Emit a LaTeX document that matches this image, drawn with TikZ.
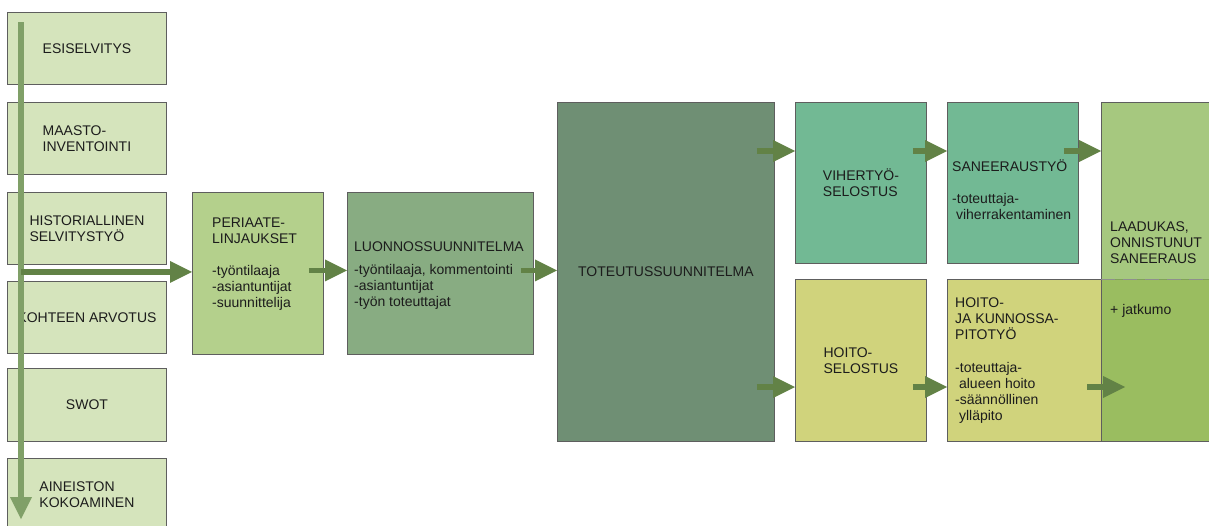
\documentclass[tikz,border=0pt]{standalone}
\usepackage{fontspec}
\setmainfont{Liberation Sans}
\usetikzlibrary{arrows.meta, calc}
\definecolor{boxline}{HTML}{5E5E5E}
\definecolor{textcol}{HTML}{1C1C1C}
\definecolor{palegreen}{HTML}{D5E4BC}
\definecolor{perigreen}{HTML}{B4D08C}
\definecolor{luongreen}{HTML}{88AC82}
\definecolor{totgreen}{HTML}{6F8F74}
\definecolor{mintgreen}{HTML}{72B994}
\definecolor{hoitoyellow}{HTML}{D0D37C}
\definecolor{laadgreen}{HTML}{8BB758}
\definecolor{flowgreen}{RGB}{98,130,70}
\definecolor{flowpale}{RGB}{128,160,104}

\begin{document}
\begin{tikzpicture}[x=1pt, y=-1pt,
    box/.style={draw=boxline, line width=0.9pt, anchor=north west, inner sep=0pt, align=left,
      text=textcol, font=\fontsize{14pt}{16pt}\selectfont},
    leftbox/.style={box, fill=palegreen, minimum width=159pt, minimum height=72pt},
    txt/.style={anchor=north west, inner sep=0pt, align=left, text=textcol,
      font=\fontsize{14pt}{16pt}\selectfont},
    flow/.style={draw=flowgreen, line width=5.5pt,
      -{Triangle[length=22pt, width=22pt, line width=0pt]}},
    flowlight/.style={flow, draw=flowpale}]
  \useasboundingbox (0,0) rectangle (1209,525);

  \node[leftbox] (esi) at (7,12) {ESISELVITYS};
  \node[leftbox] (maasto) at (7,102) {MAASTO-\\INVENTOINTI};
  \node[leftbox] (hist) at (7,192) {HISTORIALLINEN\\SELVITYSTYÖ};
  \node[leftbox] (kohde) at (7,281) {KOHTEEN ARVOTUS};
  \node[leftbox, minimum height=73pt] (swot) at (7,368) {SWOT};
  \node[leftbox] (aine) at (7,458) {AINEISTON\\KOKOAMINEN};

  \node[box, fill=perigreen, minimum width=131pt, minimum height=162pt] (peri) at (192,192) {};
  \node[box, fill=luongreen, minimum width=186pt, minimum height=162pt] (luon) at (347,192) {};
  \node[box, fill=totgreen, minimum width=217pt, minimum height=339pt] (tot) at (557,102) {TOTEUTUSSUUNNITELMA};
  \node[box, fill=mintgreen, minimum width=131pt, minimum height=161pt] (viher) at (795,102) {VIHERTYÖ-\\SELOSTUS};
  \node[box, fill=mintgreen, minimum width=131pt, minimum height=161pt] (san) at (947,102) {};
  \node[box, fill=hoitoyellow, minimum width=131pt, minimum height=162pt] (hsel) at (795,279) {HOITO-\\SELOSTUS};
  \node[box, fill=hoitoyellow, minimum width=268pt, minimum height=162pt] (hoito) at (947,279) {};
  \node[box, fill=laadgreen, fill opacity=0.77, minimum width=120pt, minimum height=339pt] (laad) at (1101,102) {};
  \draw[boxline!70, line width=0.9pt, dash pattern=on 14pt off 8pt] (laad.west |- hoito.north) -- (hoito.north east);

  \node[txt] (peritxt) at (212,218) {PERIAATE-\\LINJAUKSET\\[16pt]-työntilaaja\\-asiantuntijat\\-suunnittelija};
  \node[txt] (luontxt) at (354,241.5) {LUONNOSSUUNNITELMA\\[7pt]-työntilaaja, kommentointi\\-asiantuntijat\\-työn toteuttajat};
  \node[txt] (santxt) at (952,159.5) {SANEERAUSTYÖ\\[16pt]-toteuttaja-\\\ viherrakentaminen};
  \node[txt] (hoitotxt) at (955,297.5) {HOITO-\\JA KUNNOSSA-\\PITOTYÖ\\[17pt]-toteuttaja-\\\ alueen hoito\\-säännöllinen\\\ ylläpito};
  \node[txt] (laadtxt) at (1110,221.5) {LAADUKAS,\\ONNISTUNUT\\SANEERAUS};
  \node[txt] (jatkumo) at (1110,304) {+ jatkumo};

  \draw[flowlight] ($(esi.north west)+(14,10)$) -- ($(aine.north west)+(14,61)$);
  \draw[flow] ($(hist.south west)+(14,7)$) -- ($(hist.south west -| peri.west)+(0,7)$);
  \draw[flow] ($(peri.east)+(-15,-3)$) -- ($(luon.west)+(0,-3)$);
  \draw[flow] ($(luon.east)+(-13,-3)$) -- ($(tot.west |- luon.east)+(0,-3)$);
  \draw[flow] ($(tot.east |- viher.north)+(-18,49)$) -- ($(viher.north west)+(0,49)$);
  \draw[flow] ($(tot.east |- hsel.north)+(-18,108)$) -- ($(hsel.north west)+(0,108)$);
  \draw[flow] ($(viher.north east)+(-14,49)$) -- ($(san.north west)+(0,49)$);
  \draw[flow] ($(san.north east)+(-15,49)$) -- ($(laad.north west)+(0,49)$);
  \draw[flow] ($(hsel.north east)+(-14,108)$) -- ($(hoito.north west)+(0,108)$);
  \draw[flow] ($(laad.west |- hoito.north)+(-14,108)$) -- ($(laad.west |- hoito.north)+(24,108)$);
\end{tikzpicture}
\end{document}
